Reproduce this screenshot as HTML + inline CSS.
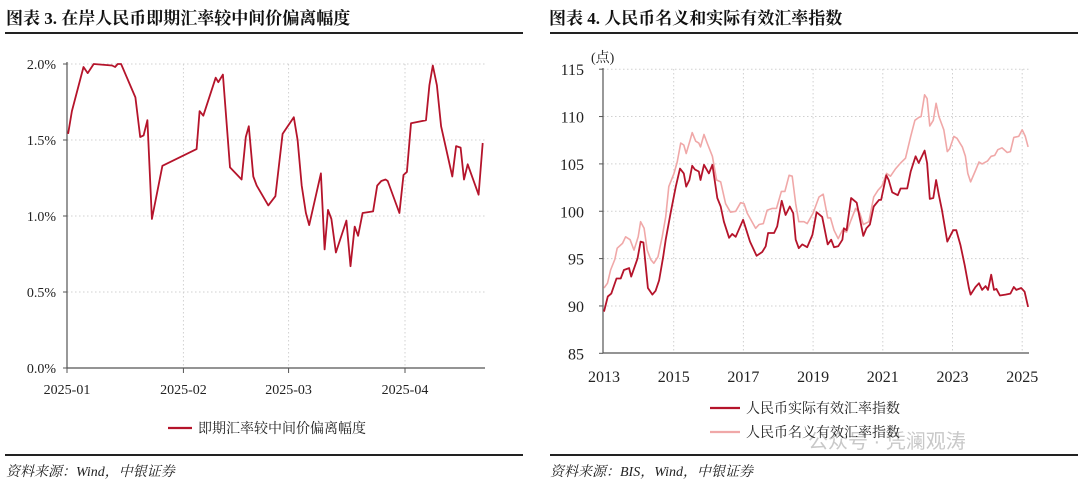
<!DOCTYPE html>
<html><head><meta charset="utf-8">
<style>
body{margin:0;width:1080px;height:488px;background:#fff;overflow:hidden;font-family:"Liberation Serif","Noto Serif CJK SC",serif;}
svg{position:absolute;left:0;top:0}
</style></head>
<body>
<svg id="s" width="1080" height="488" xmlns="http://www.w3.org/2000/svg">
<text x="6" y="24" font-size="17" font-weight="bold" fill="#111" font-family="Liberation Serif, Noto Serif CJK SC, serif">图表 3. 在岸人民币即期汇率较中间价偏离幅度</text>
<text x="549" y="24" font-size="17" font-weight="bold" fill="#111" font-family="Liberation Serif, Noto Serif CJK SC, serif">图表 4. 人民币名义和实际有效汇率指数</text>
<rect x="5" y="32" width="518" height="2" fill="#222"/>
<rect x="550" y="32" width="528" height="2" fill="#222"/>
<rect x="5" y="454" width="518" height="2" fill="#222"/>
<rect x="550" y="454" width="528" height="2" fill="#222"/>
<text x="6" y="476" font-size="14" font-style="italic" fill="#222">资料来源：Wind，中银证券</text>
<text x="550" y="476" font-size="14" font-style="italic" fill="#222">资料来源：BIS，Wind，中银证券</text>
<text x="808" y="448" font-size="20" fill="#c8c8c8" font-family="Liberation Sans, Noto Sans CJK SC, sans-serif">公众号 · 凭澜观涛</text>
<g id="L"></g><g id="R"></g>
</svg>
<script>
// Left chart data
const leftDays=[0.3,1.3,4.4,5.5,7.1,12,12.8,13.5,14.4,18.2,19.5,20.4,21.4,22.6,25.4,34.5,35.3,36.3,39.6,40.3,41.5,43.4,46.5,47.6,48.4,49.6,50.5,53.6,55.5,57.4,60.4,61.4,62.5,63.6,64.5,67.6,68.6,69.5,70.4,71.6,74.4,75.5,76.6,77.5,78.7,81.5,82.6,83.7,84.8,85.4,88.5,89.6,90.5,91.6,95.6,96.5,97.4,98.5,99.6,102.6,103.6,104.8,105.7,106.7,109.6,110.7];
const leftValues=[1.54,1.69,1.98,1.94,2.0,1.99,1.98,2.0,2.0,1.78,1.52,1.53,1.63,0.98,1.33,1.44,1.69,1.66,1.91,1.88,1.93,1.32,1.24,1.52,1.59,1.26,1.20,1.07,1.13,1.54,1.65,1.50,1.20,1.02,0.94,1.28,0.78,1.04,0.98,0.76,0.97,0.67,0.93,0.87,1.02,1.03,1.20,1.23,1.24,1.23,1.02,1.27,1.29,1.61,1.63,1.86,1.99,1.86,1.59,1.26,1.46,1.45,1.24,1.34,1.14,1.48];
const leftYTicks=[0,0.5,1.0,1.5,2.0];
const leftYLabels=["0.0%","0.5%","1.0%","1.5%","2.0%"];
const leftXTickDays=[0,31,59,90];
const leftXLabels=["2025-01","2025-02","2025-03","2025-04"];
// Right chart data
const realYears=[2013.00,2013.11,2013.21,2013.36,2013.48,2013.57,2013.72,2013.78,2013.96,2014.05,2014.13,2014.26,2014.39,2014.48,2014.58,2014.70,2014.77,2014.91,2015.06,2015.18,2015.29,2015.36,2015.45,2015.53,2015.61,2015.72,2015.77,2015.87,2016.01,2016.11,2016.25,2016.35,2016.44,2016.59,2016.68,2016.78,2016.99,2017.06,2017.19,2017.38,2017.54,2017.64,2017.71,2017.88,2017.97,2018.10,2018.21,2018.33,2018.43,2018.50,2018.59,2018.69,2018.83,2018.98,2019.10,2019.26,2019.42,2019.52,2019.60,2019.72,2019.84,2019.88,2019.96,2020.09,2020.25,2020.44,2020.53,2020.63,2020.74,2020.89,2020.95,2021.10,2021.17,2021.27,2021.43,2021.51,2021.70,2021.80,2021.94,2022.03,2022.20,2022.27,2022.35,2022.45,2022.53,2022.61,2022.70,2022.85,2023.02,2023.11,2023.23,2023.35,2023.47,2023.52,2023.66,2023.76,2023.85,2023.95,2024.02,2024.11,2024.19,2024.26,2024.36,2024.52,2024.66,2024.76,2024.83,2024.97,2025.07,2025.17];
const realValues=[89.4,91.0,91.3,92.9,92.9,93.8,94.0,93.1,95.0,96.8,96.7,91.9,91.2,91.6,92.7,95.2,97.0,99.8,102.6,104.5,104.0,102.6,103.3,104.8,104.4,104.2,103.3,104.9,104.0,104.9,101.4,100.5,98.9,97.2,97.6,97.3,99.1,98.3,96.8,95.3,95.7,96.3,97.7,97.7,98.4,101.1,99.6,100.5,99.8,97.0,96.1,96.5,96.2,97.5,99.9,99.4,96.5,97.0,96.2,96.3,97.0,98.2,98.0,101.4,100.9,97.4,98.2,98.6,100.5,101.2,101.2,103.8,103.3,102.0,101.7,102.4,102.4,104.2,105.8,105.1,106.4,105.1,101.3,101.4,103.3,101.7,100.1,96.8,98.0,98.0,96.4,94.3,91.9,91.2,92.0,92.4,91.7,92.1,91.7,93.3,91.7,91.8,91.1,91.2,91.3,92.0,91.7,91.9,91.5,89.9];
const nomYears=[2013.00,2013.10,2013.19,2013.31,2013.38,2013.53,2013.62,2013.75,2013.86,2013.98,2014.05,2014.15,2014.24,2014.34,2014.43,2014.55,2014.67,2014.77,2014.86,2015.01,2015.10,2015.20,2015.29,2015.36,2015.47,2015.53,2015.63,2015.72,2015.77,2015.87,2015.96,2016.11,2016.23,2016.35,2016.49,2016.63,2016.78,2016.92,2017.02,2017.11,2017.35,2017.45,2017.57,2017.68,2017.83,2017.95,2018.09,2018.19,2018.31,2018.40,2018.50,2018.59,2018.74,2018.83,2019.00,2019.17,2019.29,2019.42,2019.50,2019.60,2019.72,2019.84,2019.96,2020.07,2020.22,2020.34,2020.44,2020.60,2020.74,2020.86,2020.98,2021.11,2021.22,2021.37,2021.51,2021.65,2021.80,2021.92,2022.03,2022.10,2022.20,2022.27,2022.35,2022.45,2022.53,2022.61,2022.75,2022.85,2022.92,2023.04,2023.13,2023.28,2023.37,2023.44,2023.52,2023.66,2023.76,2023.85,2024.00,2024.11,2024.21,2024.30,2024.42,2024.57,2024.66,2024.76,2024.90,2025.00,2025.09,2025.17];
const nomValues=[91.9,92.4,93.8,94.9,96.1,96.6,97.3,97.0,95.9,97.3,98.9,98.2,95.9,94.9,94.5,95.2,97.3,99.4,102.6,104.0,105.2,107.2,107.0,106.1,107.5,108.3,107.4,107.2,106.8,108.1,107.2,105.8,103.3,103.1,100.8,99.9,100.0,100.9,100.8,99.8,98.2,98.6,98.7,100.1,100.3,100.3,102.1,102.1,103.8,103.7,100.8,98.9,98.9,98.7,99.8,101.5,101.8,99.3,99.3,98.0,97.1,98.0,97.8,98.9,100.3,99.8,98.6,98.9,101.5,102.2,102.7,104.0,103.7,104.5,105.1,105.6,107.9,109.6,109.9,110.0,112.3,111.9,109.0,109.6,111.4,110.0,108.6,106.3,106.6,107.9,107.7,106.8,105.8,104.0,103.1,104.3,105.2,105.0,105.3,105.8,105.9,106.5,106.7,106.2,106.3,107.8,107.9,108.6,107.9,106.8];
const rightYTicks=[85,90,95,100,105,110,115];
const rightXTicks=[2013,2015,2017,2019,2021,2023,2025];

const NS="http://www.w3.org/2000/svg";
function mk(parent,tag,attrs,text){const e=document.createElementNS(NS,tag);for(const k in attrs)e.setAttribute(k,attrs[k]);if(text!==undefined)e.textContent=text;parent.appendChild(e);return e;}

// Left chart
const L=document.getElementById('L');
const lx=d=>67+d*(338/90);
const ly=v=>368-v*152;
leftYTicks.forEach((t,i)=>{
  if(t>0){const g=mk(L,'line',{x1:67,x2:485,y1:ly(t),y2:ly(t),stroke:'#d0d0d0','stroke-dasharray':'1.5,2.5'});
  
  }
  const tk=mk(L,'line',{x1:63,x2:67,y1:ly(t),y2:ly(t),stroke:'#555'});
  
  
  const lb=mk(L,'text',{x:56,y:ly(t)+5,'text-anchor':'end','font-size':14,fill:'#222'},leftYLabels[i]);
  
  
});
leftXTickDays.forEach((d,i)=>{
  if(i>0){const g=mk(L,'line',{x1:lx(d),x2:lx(d),y1:64,y2:368,stroke:'#d0d0d0','stroke-dasharray':'1.5,2.5'});
  
  }
  const tk=mk(L,'line',{x1:lx(d),x2:lx(d),y1:368,y2:373,stroke:'#555'});
  
  
  const lb=mk(L,'text',{x:lx(d),y:394,'text-anchor':'middle','font-size':14,fill:'#222'},leftXLabels[i]);
  
  
});
const lax=mk(L,'path',{d:'M67,62V368H485',fill:'none',stroke:'#555','stroke-width':1.2});


const lp=mk(L,'polyline',{points:leftDays.map((d,i)=>lx(d).toFixed(1)+','+ly(leftValues[i]).toFixed(1)).join(' '),fill:'none',stroke:'#b5142b','stroke-width':1.8,'stroke-linejoin':'round'});


const ll=mk(L,'line',{x1:168,x2:192,y1:428,y2:428,stroke:'#b5142b','stroke-width':2.2});


const lt=mk(L,'text',{x:198,y:433,'font-size':14,fill:'#222'},'即期汇率较中间价偏离幅度');



// Right chart
const R=document.getElementById('R');
const rx=y=>604+(y-2013)*34.85;
const ry=v=>353.3-(v-85)*9.47;
rightYTicks.forEach(t=>{
  if(t>85){const g=mk(R,'line',{x1:603,x2:1029,y1:ry(t),y2:ry(t),stroke:'#d0d0d0','stroke-dasharray':'1.5,2.5'});
  
  }
  const tk=mk(R,'line',{x1:599,x2:603,y1:ry(t),y2:ry(t),stroke:'#555'});
  
  
  const lb=mk(R,'text',{x:584,y:ry(t)+6,'text-anchor':'end','font-size':16,fill:'#222'},String(t));
  
  
});
rightXTicks.forEach(t=>{
  if(t>2013){const g=mk(R,'line',{x1:rx(t),x2:rx(t),y1:69,y2:353,stroke:'#d0d0d0','stroke-dasharray':'1.5,2.5'});
  
  }
  const lb=mk(R,'text',{x:rx(t),y:382,'text-anchor':'middle','font-size':16,fill:'#222'},String(t));
  
  
});
const un=mk(R,'text',{x:591,y:62,'font-size':14,fill:'#222'},'(点)');


const rax=mk(R,'path',{d:'M603,68V353H1029',fill:'none',stroke:'#555','stroke-width':1.2});


const np=mk(R,'polyline',{points:nomYears.map((y,i)=>rx(y).toFixed(1)+','+ry(nomValues[i]).toFixed(1)).join(' '),fill:'none',stroke:'#f0a8a8','stroke-width':1.6,'stroke-linejoin':'round'});


const rp=mk(R,'polyline',{points:realYears.map((y,i)=>rx(y).toFixed(1)+','+ry(realValues[i]).toFixed(1)).join(' '),fill:'none',stroke:'#b5142b','stroke-width':1.8,'stroke-linejoin':'round'});


const s1=mk(R,'line',{x1:710,x2:740,y1:408,y2:408,stroke:'#b5142b','stroke-width':2.2});


const t1=mk(R,'text',{x:746,y:413,'font-size':14,fill:'#222'},'人民币实际有效汇率指数');


const s2=mk(R,'line',{x1:710,x2:740,y1:432,y2:432,stroke:'#f0a8a8','stroke-width':2.2});


const t2=mk(R,'text',{x:746,y:437,'font-size':14,fill:'#222'},'人民币名义有效汇率指数');


</script>
</body></html>
